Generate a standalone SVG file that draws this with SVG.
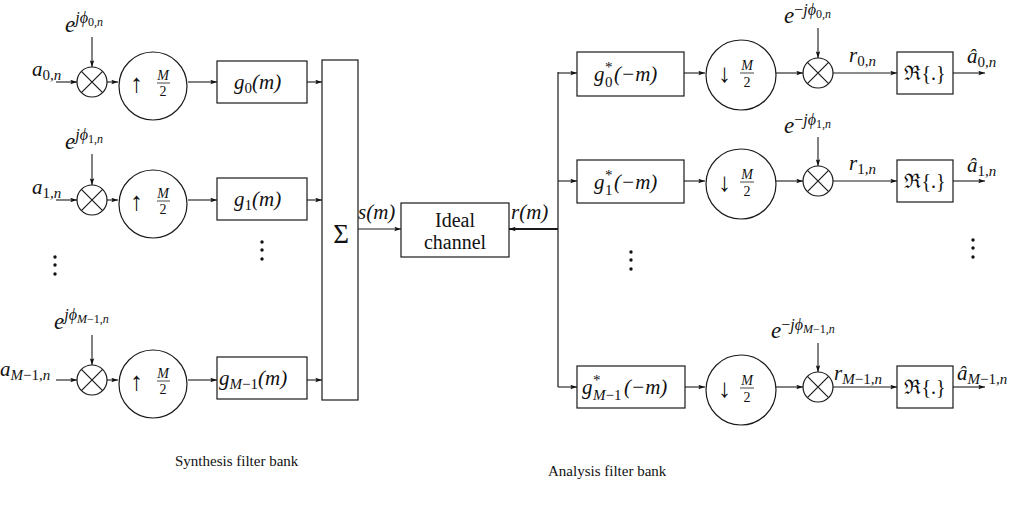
<svg xmlns="http://www.w3.org/2000/svg" width="1029" height="511" viewBox="0 0 1029 511" font-family="Liberation Serif, serif">
<style>
.ln{stroke:#1a1a1a;stroke-width:1.2;fill:none}
.bx{stroke:#1a1a1a;stroke-width:1.2;fill:#fff}
.ar{stroke:#1a1a1a;stroke-width:1.1;fill:none;marker-end:url(#ah)}
.mi{font-family:"Liberation Serif",serif;font-style:italic;font-size:21px;fill:#111}
.ex{font-family:"Liberation Serif",serif;font-style:italic;font-size:23px;fill:#111}
.rm{font-family:"Liberation Serif",serif;font-style:normal;font-size:20px;fill:#111}
.sm{font-size:15px}
.sp{font-size:16px}
.ss{font-size:12px}
.up{font-style:normal}
.arw{font-family:"Liberation Serif",serif;font-size:26px;fill:#111}
.fr{font-family:"Liberation Serif",serif;font-size:14px;fill:#111;text-anchor:middle}
.cap{font-family:"Liberation Serif",serif;font-size:15px;fill:#111}
.dot{fill:#111}
</style>
<defs>
<marker id="ah" viewBox="0 0 8 6" refX="8" refY="3" markerWidth="7" markerHeight="5" orient="auto" markerUnits="userSpaceOnUse"><path d="M0,0.3 L8,3 L0,5.7 L1.5,3 z" fill="#111"/></marker>
<g id="mix"><circle r="15" class="bx"/><path d="M-10.6,-10.6 L10.6,10.6 M-10.6,10.6 L10.6,-10.6" class="ln"/></g>
</defs>

<g id="connectors">
<line x1="56" y1="82" x2="77" y2="82" class="ar"/>
<line x1="92" y1="37" x2="92" y2="67" class="ar"/>
<line x1="107" y1="82" x2="118" y2="82" class="ar"/>
<line x1="188" y1="82" x2="217" y2="82" class="ar"/>
<line x1="307" y1="82" x2="322" y2="82" class="ar"/>
<line x1="56" y1="200" x2="77" y2="200" class="ar"/>
<line x1="92" y1="154" x2="92" y2="185" class="ar"/>
<line x1="107" y1="200" x2="118" y2="200" class="ar"/>
<line x1="188" y1="200" x2="217" y2="200" class="ar"/>
<line x1="307" y1="200" x2="322" y2="200" class="ar"/>
<line x1="56" y1="380" x2="77" y2="380" class="ar"/>
<line x1="92" y1="335" x2="92" y2="365" class="ar"/>
<line x1="107" y1="380" x2="118" y2="380" class="ar"/>
<line x1="188" y1="380" x2="217" y2="380" class="ar"/>
<line x1="307" y1="380" x2="322" y2="380" class="ar"/>
<line x1="358" y1="229" x2="401" y2="229" class="ar"/>
<line x1="558" y1="229" x2="509" y2="229" class="ar" style="stroke-width:1.8"/>
<line x1="558" y1="72" x2="558" y2="387" class="ln"/>
<line x1="558" y1="73" x2="577" y2="73" class="ar"/>
<line x1="684" y1="73" x2="705" y2="73" class="ar"/>
<line x1="776" y1="73" x2="803" y2="73" class="ar"/>
<line x1="818" y1="28" x2="818" y2="58" class="ar"/>
<line x1="833" y1="73" x2="897" y2="73" class="ar"/>
<line x1="953" y1="73" x2="985" y2="73" class="ar"/>
<line x1="558" y1="181" x2="577" y2="181" class="ar"/>
<line x1="684" y1="181" x2="705" y2="181" class="ar"/>
<line x1="776" y1="181" x2="803" y2="181" class="ar"/>
<line x1="818" y1="137" x2="818" y2="166" class="ar"/>
<line x1="833" y1="181" x2="897" y2="181" class="ar"/>
<line x1="953" y1="181" x2="985" y2="181" class="ar"/>
<line x1="558" y1="387" x2="577" y2="387" class="ar"/>
<line x1="685" y1="387" x2="705" y2="387" class="ar"/>
<line x1="776" y1="387" x2="803" y2="387" class="ar"/>
<line x1="818" y1="343" x2="818" y2="372" class="ar"/>
<line x1="833" y1="387" x2="897" y2="387" class="ar"/>
<line x1="953" y1="387" x2="985" y2="387" class="ar"/>
</g>

<g id="in0">
<text x="32" y="76" class="mi">a<tspan class="sm up" dy="4">0</tspan><tspan class="sm">,n</tspan></text>
<text x="65" y="32" class="ex">e<tspan class="sp" dy="-9">jϕ</tspan><tspan class="ss up" dy="3">0</tspan><tspan class="ss">,n</tspan></text>
</g>
<g id="mixL0"><use href="#mix" x="92" y="82"/></g>
<g id="upL0"><circle cx="153" cy="86" r="34" class="bx"/><text x="130" y="92" class="arw">↑</text><text x="163" y="80" class="fr" font-style="italic">M</text><line x1="157" y1="83" x2="170" y2="83" class="ln" style="stroke-width:0.8"/><text x="163" y="96" class="fr">2</text></g>
<g id="gL0"><rect x="217" y="61" width="90" height="42" class="bx"/><text x="234" y="89" class="mi">g<tspan class="sm up" dy="4">0</tspan><tspan dy="-4">(m)</tspan></text></g>

<g id="in1">
<text x="32" y="194" class="mi">a<tspan class="sm up" dy="4">1</tspan><tspan class="sm">,n</tspan></text>
<text x="65" y="149" class="ex">e<tspan class="sp" dy="-9">jϕ</tspan><tspan class="ss up" dy="3">1</tspan><tspan class="ss">,n</tspan></text>
</g>
<g id="mixL1"><use href="#mix" x="92" y="200"/></g>
<g id="upL1"><circle cx="153" cy="204" r="34" class="bx"/><text x="130" y="210" class="arw">↑</text><text x="163" y="198" class="fr" font-style="italic">M</text><line x1="157" y1="201" x2="170" y2="201" class="ln" style="stroke-width:0.8"/><text x="163" y="214" class="fr">2</text></g>
<g id="gL1"><rect x="217" y="178" width="90" height="42" class="bx"/><text x="234" y="206" class="mi">g<tspan class="sm up" dy="4">1</tspan><tspan dy="-4">(m)</tspan></text></g>

<g id="dotsL">
<circle cx="55" cy="257" r="1.7" class="dot"/><circle cx="55" cy="265" r="1.7" class="dot"/><circle cx="55" cy="274" r="1.7" class="dot"/>
<circle cx="262" cy="242" r="1.7" class="dot"/><circle cx="262" cy="250" r="1.7" class="dot"/><circle cx="262" cy="259" r="1.7" class="dot"/>
</g>

<g id="inM">
<text x="0" y="376" class="mi">a<tspan class="sm" dy="4">M</tspan><tspan class="sm up">−1</tspan><tspan class="sm">,n</tspan></text>
<text x="54" y="329" class="ex">e<tspan class="sp" dy="-9">jϕ</tspan><tspan class="ss" dy="3">M</tspan><tspan class="ss up">−1</tspan><tspan class="ss">,n</tspan></text>
</g>
<g id="mixLM"><use href="#mix" x="92" y="380"/></g>
<g id="upLM"><circle cx="153" cy="384" r="34" class="bx"/><text x="130" y="390" class="arw">↑</text><text x="163" y="378" class="fr" font-style="italic">M</text><line x1="157" y1="381" x2="170" y2="381" class="ln" style="stroke-width:0.8"/><text x="163" y="394" class="fr">2</text></g>
<g id="gLM"><rect x="217" y="357" width="90" height="42" class="bx"/><text x="219" y="385" class="mi">g<tspan class="sm" dy="4">M</tspan><tspan class="sm up">−1</tspan><tspan dy="-4">(m)</tspan></text></g>

<g id="sum"><rect x="322" y="60" width="36" height="340" class="bx"/><text x="341" y="243" class="rm" style="font-size:27px;text-anchor:middle">Σ</text></g>
<text x="358" y="219" class="mi">s(m)</text>

<g id="channel"><rect x="401" y="203" width="108" height="54" class="bx"/><text x="455" y="227" class="rm" text-anchor="middle">Ideal</text><text x="455" y="249" class="rm" text-anchor="middle">channel</text></g>
<text x="511" y="219" class="mi">r(m)</text>

<g id="gR0"><rect x="577" y="52" width="107" height="44" class="bx"/><text x="594" y="81" class="mi">g<tspan class="sm up" x="605" y="72">*</tspan><tspan class="sm up" x="605" y="87">0</tspan><tspan x="614" y="81">(−m)</tspan></text></g>
<g id="dnR0"><circle cx="741" cy="75" r="35" class="bx"/><text x="718" y="82" class="arw">↓</text><text x="747" y="70" class="fr" font-style="italic">M</text><line x1="740" y1="73" x2="754" y2="73" class="ln" style="stroke-width:0.8"/><text x="747" y="87" class="fr">2</text></g>
<g id="mixR0"><use href="#mix" x="818" y="73"/></g>
<text x="784" y="23" class="ex">e<tspan class="sp up" dy="-8">−</tspan><tspan class="sp">jϕ</tspan><tspan class="ss up" dy="3">0</tspan><tspan class="ss">,n</tspan></text>
<text x="849" y="62" class="mi">r<tspan class="sm up" dy="4">0</tspan><tspan class="sm">,n</tspan></text>
<g id="reR0"><rect x="897" y="52" width="56" height="42" class="bx"/><text x="925" y="80" class="rm" text-anchor="middle">ℜ{.}</text></g>
<text x="967" y="63" class="mi">â<tspan class="sm up" dy="4">0</tspan><tspan class="sm">,n</tspan></text>

<g id="gR1"><rect x="577" y="160" width="107" height="43" class="bx"/><text x="594" y="189" class="mi">g<tspan class="sm up" x="605" y="180">*</tspan><tspan class="sm up" x="605" y="195">1</tspan><tspan x="614" y="189">(−m)</tspan></text></g>
<g id="dnR1"><circle cx="741" cy="184" r="35" class="bx"/><text x="718" y="191" class="arw">↓</text><text x="747" y="179" class="fr" font-style="italic">M</text><line x1="740" y1="182" x2="754" y2="182" class="ln" style="stroke-width:0.8"/><text x="747" y="196" class="fr">2</text></g>
<g id="mixR1"><use href="#mix" x="818" y="181"/></g>
<text x="784" y="133" class="ex">e<tspan class="sp up" dy="-8">−</tspan><tspan class="sp">jϕ</tspan><tspan class="ss up" dy="3">1</tspan><tspan class="ss">,n</tspan></text>
<text x="849" y="170" class="mi">r<tspan class="sm up" dy="4">1</tspan><tspan class="sm">,n</tspan></text>
<g id="reR1"><rect x="897" y="160" width="56" height="42" class="bx"/><text x="925" y="188" class="rm" text-anchor="middle">ℜ{.}</text></g>
<text x="967" y="172" class="mi">â<tspan class="sm up" dy="4">1</tspan><tspan class="sm">,n</tspan></text>

<g id="dotsR">
<circle cx="631" cy="252" r="1.7" class="dot"/><circle cx="631" cy="260" r="1.7" class="dot"/><circle cx="631" cy="269" r="1.7" class="dot"/>
<circle cx="973" cy="240" r="1.7" class="dot"/><circle cx="973" cy="248" r="1.7" class="dot"/><circle cx="973" cy="257" r="1.7" class="dot"/>
</g>

<g id="gRM"><rect x="577" y="366" width="108" height="42" class="bx"/><text x="582" y="394" class="mi">g<tspan class="sm up" x="593" y="385">*</tspan><tspan class="sm" x="593" y="400">M</tspan><tspan class="sm up">−1</tspan><tspan x="624" y="394">(−m)</tspan></text></g>
<g id="dnRM"><circle cx="741" cy="390" r="35" class="bx"/><text x="718" y="397" class="arw">↓</text><text x="747" y="385" class="fr" font-style="italic">M</text><line x1="740" y1="388" x2="754" y2="388" class="ln" style="stroke-width:0.8"/><text x="747" y="402" class="fr">2</text></g>
<g id="mixRM"><use href="#mix" x="818" y="387"/></g>
<text x="771" y="338" class="ex">e<tspan class="sp up" dy="-8">−</tspan><tspan class="sp">jϕ</tspan><tspan class="ss" dy="3">M</tspan><tspan class="ss up">−1</tspan><tspan class="ss">,n</tspan></text>
<text x="834" y="380" class="mi">r<tspan class="sm" dy="4">M</tspan><tspan class="sm up">−1</tspan><tspan class="sm">,n</tspan></text>
<g id="reRM"><rect x="897" y="366" width="56" height="42" class="bx"/><text x="925" y="394" class="rm" text-anchor="middle">ℜ{.}</text></g>
<text x="957" y="380" class="mi">â<tspan class="sm" dy="4">M</tspan><tspan class="sm up">−1</tspan><tspan class="sm">,n</tspan></text>

<text x="175" y="466" class="cap">Synthesis filter bank</text>
<text x="548" y="476" class="cap">Analysis filter bank</text>
</svg>
